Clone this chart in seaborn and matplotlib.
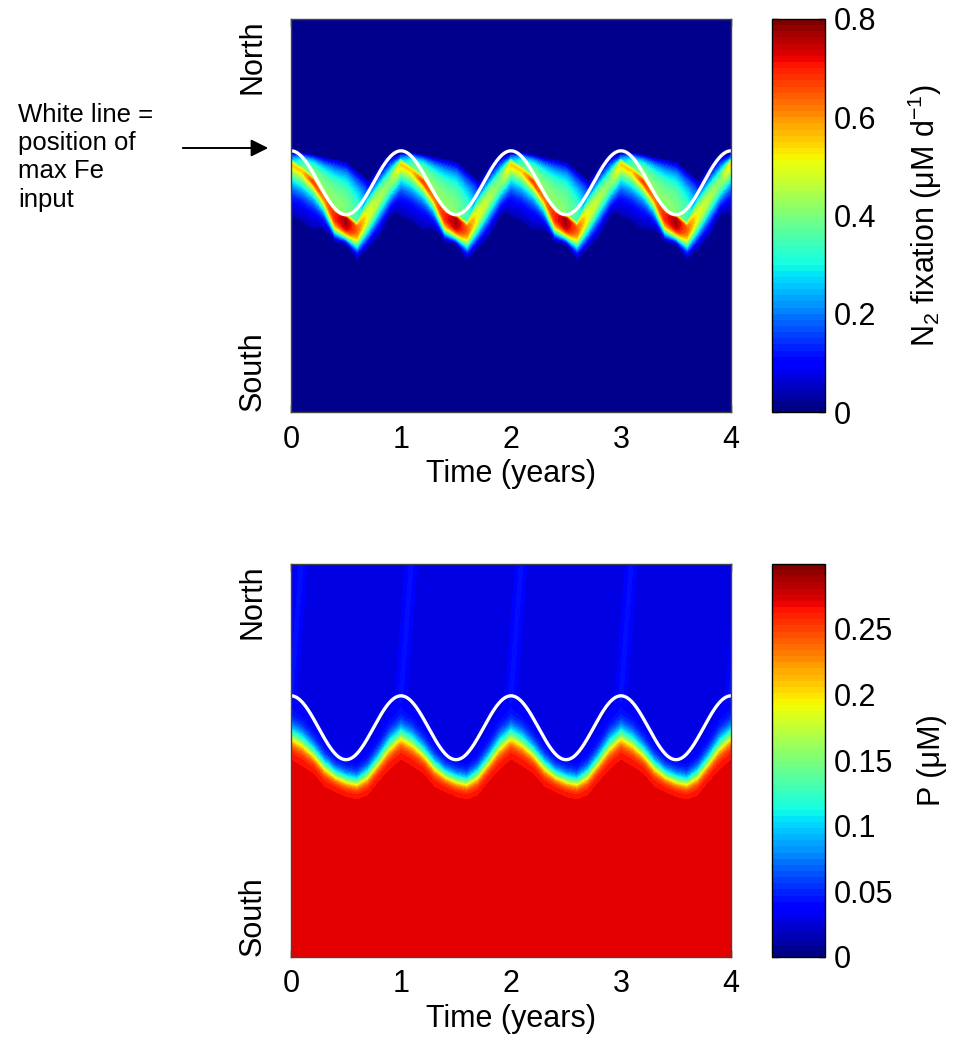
import numpy as np
import matplotlib
matplotlib.use("Agg")
import matplotlib.pyplot as plt
import matplotlib.colors as mcolors
import matplotlib.cm as mcm
import matplotlib.patches as mpatches
import seaborn as sns

# ---------------------------------------------------------------- data
years = [0, 1, 2, 3, 4]
lat_limits = [0.0, 4.8]
lat_ticks = [0.8, 1.8, 2.8, 3.8]

# Latitude of maximum Fe input (northern and southern turning points)
fe_north = 3.19
fe_south = 2.41

# Annual cycle of the N2-fixation band, tabulated every 0.1 yr
cycle_phase = [0.0, 0.1, 0.2, 0.3, 0.4, 0.5, 0.6, 0.7, 0.8, 0.9]
fix_lat = [3.02, 2.94, 2.81, 2.61, 2.41, 2.35, 2.24, 2.41, 2.61, 2.81]
fix_peak = [0.55, 0.55, 0.68, 0.62, 0.70, 0.77, 0.64, 0.50, 0.45, 0.40]
fix_width_south = [0.27, 0.26, 0.195, 0.177, 0.23, 0.23, 0.24, 0.26, 0.27, 0.26]
fix_shape_south = [1.2, 1.2, 1.0, 1.35, 3.0, 4.0, 2.5, 2.2, 1.75, 2.0]
fix_width_north = [0.08, 0.08, 0.08, 0.08, 0.08, 0.08, 0.10, 0.24, 0.24, 0.22]
halo_peak = [0.25, 0.38, 0.42, 0.42, 0.42, 0.40, 0.35, 0.20, 0.10, 0.10]
halo_edge = [3.17, 3.17, 3.15, 3.12, 3.10, 3.07, 2.96, 2.85, 2.87, 3.06]
fix_detect = 0.035  # rates below this are not resolved

# Phosphate front over the same cycle
p_front_lat = [2.70, 2.62, 2.49, 2.33, 2.22, 2.16, 2.13, 2.22, 2.39, 2.58]
p_width_north = [0.10, 0.10, 0.09, 0.08, 0.07, 0.07, 0.07, 0.08, 0.09, 0.10]
p_width_south = [0.07, 0.07, 0.06, 0.06, 0.05, 0.05, 0.05, 0.06, 0.06, 0.07]
p_north = 0.027
p_south = 0.273
streak_amp = 0.012

n2_ticks = [0, 0.2, 0.4, 0.6, 0.8]
p_ticks = [0, 0.05, 0.1, 0.15, 0.2, 0.25]

# ---------------------------------------------------------------- style
sns.set_theme(style="ticks")
plt.rcParams["font.family"] = ["Liberation Sans", "DejaVu Sans"]
plt.rcParams["mathtext.fontset"] = "custom"
plt.rcParams["mathtext.rm"] = "Liberation Sans"
plt.rcParams["mathtext.it"] = "Liberation Sans"
plt.rcParams["mathtext.default"] = "regular"
for key in ["text.color", "axes.labelcolor", "xtick.color", "ytick.color"]:
    plt.rcParams[key] = "black"
FS = 22
jet = matplotlib.colormaps["jet"]
jet64 = mcolors.ListedColormap(jet(np.linspace(0, 1, 64)))

# ---------------------------------------------------------------- fields
t = np.linspace(0, 4, 801)
lat = np.linspace(lat_limits[0], lat_limits[1], 577)
T, Y = np.meshgrid(t, lat)
phase = T % 1.0


def cyc(vals):
    return np.interp(phase, cycle_phase, vals, period=1.0)


fe_mid = 0.5 * (fe_north + fe_south)
fe_amp = 0.5 * (fe_north - fe_south)
fe_line = fe_mid + fe_amp * np.cos(2 * np.pi * t)

# N2 fixation: core band plus the fading wake on its northern side
c = cyc(fix_lat)
d = Y - c
peak = cyc(fix_peak)
core = np.where(d < 0,
                peak * np.exp(-(np.abs(d) / cyc(fix_width_south)) ** cyc(fix_shape_south)),
                peak * np.exp(-(d / cyc(fix_width_north)) ** 2))
he = cyc(halo_edge)
ramp = np.clip((he - Y) / (he - c), 0, 1)
halo = np.where(d > 0, cyc(halo_peak) * (1 - (1 - ramp) ** 3), 0.0)
n2fix = np.maximum(core, halo)
n2fix = np.clip(np.where(n2fix < fix_detect, 0.0, n2fix), 0, 0.8)

# Phosphate: depleted north of the front, replete to the south
fr = cyc(p_front_lat)
s = np.where(Y > fr, cyc(p_width_north), cyc(p_width_south))
phos = p_north + (p_south - p_north) / (1 + np.exp((Y - fr) / s))
dp = ((phase - 0.058 * (Y - fe_north)) + 0.5) % 1.0 - 0.5
phos += streak_amp * np.exp(-(dp / 0.045) ** 2) / (1 + np.exp(-(Y - 3.1) / 0.05))

# ---------------------------------------------------------------- figure
W, H = 961, 1039
fig = plt.figure(figsize=(W / 100, H / 100), dpi=100)


def fx(px):
    return px / W


def fy(py):
    return 1 - py / H


panels = [
    dict(top=19, bottom=412, field=n2fix, vmax=0.8, ticks=n2_ticks,
         label=r"N$_2$ fixation (μM d$^{-1}$)", label_x=925),
    dict(top=564, bottom=957, field=phos, vmax=0.2995, ticks=p_ticks,
         label="P (μM)", label_x=932),
]

for pnl in panels:
    ax = fig.add_axes([fx(291), fy(pnl["bottom"]), fx(731) - fx(291),
                       fy(pnl["top"]) - fy(pnl["bottom"])])
    levels = np.linspace(0, pnl["vmax"], 41)
    ax.contourf(T, Y, np.clip(pnl["field"], 0, pnl["vmax"]), levels=levels,
                cmap=jet, vmin=0, vmax=pnl["vmax"])
    sns.lineplot(x=t, y=fe_line, ax=ax, color="white", lw=2.4)
    ax.set_xlim(0, 4)
    ax.set_ylim(*lat_limits)
    ax.set_xticks(years)
    ax.set_xticklabels([str(y) for y in years])
    ax.set_yticks(lat_ticks)
    ax.set_yticklabels([])
    ax.tick_params(direction="in", length=5, width=1, top=True, right=True,
                   left=True, bottom=True, labelsize=FS, pad=9, color="black")
    for sp in ax.spines.values():
        sp.set_color("#444444")
        sp.set_linewidth(1)
    ax.set_xlabel("Time (years)", fontsize=FS, labelpad=3)
    ax.set_ylabel("")
    ax.text(-0.088, 0.903, "North", transform=ax.transAxes, rotation=90,
            ha="center", va="center", fontsize=FS)
    ax.text(-0.088, 0.104, "South", transform=ax.transAxes, rotation=90,
            ha="center", va="center", fontsize=FS)

    cax = fig.add_axes([fx(772), fy(pnl["bottom"]), fx(825) - fx(772),
                        fy(pnl["top"]) - fy(pnl["bottom"])])
    sm = mcm.ScalarMappable(norm=mcolors.Normalize(0, pnl["vmax"]), cmap=jet64)
    cb = fig.colorbar(sm, cax=cax)
    cb.set_ticks(pnl["ticks"])
    cb.set_ticklabels([f"{v:g}" for v in pnl["ticks"]])
    cax.tick_params(direction="in", length=4, width=1, left=True, right=True,
                    labelsize=FS, pad=6, color="black")
    cb.outline.set_edgecolor("black")
    cb.outline.set_linewidth(1)
    fig.text(fx(pnl["label_x"]), 0.5 * (fy(pnl["top"]) + fy(pnl["bottom"])),
             pnl["label"], rotation=90, ha="center", va="center", fontsize=FS)

fig.text(fx(18), fy(103), "White line =\nposition of\nmax Fe\ninput",
         ha="left", va="top", fontsize=18.5, linespacing=1.22)
fig.add_artist(mpatches.FancyArrowPatch(
    (fx(180), fy(148)), (fx(271), fy(148)), transform=fig.transFigure,
    arrowstyle="-|>", mutation_scale=26, lw=1.4, color="black"))

fig.savefig("out.png", dpi=100)
